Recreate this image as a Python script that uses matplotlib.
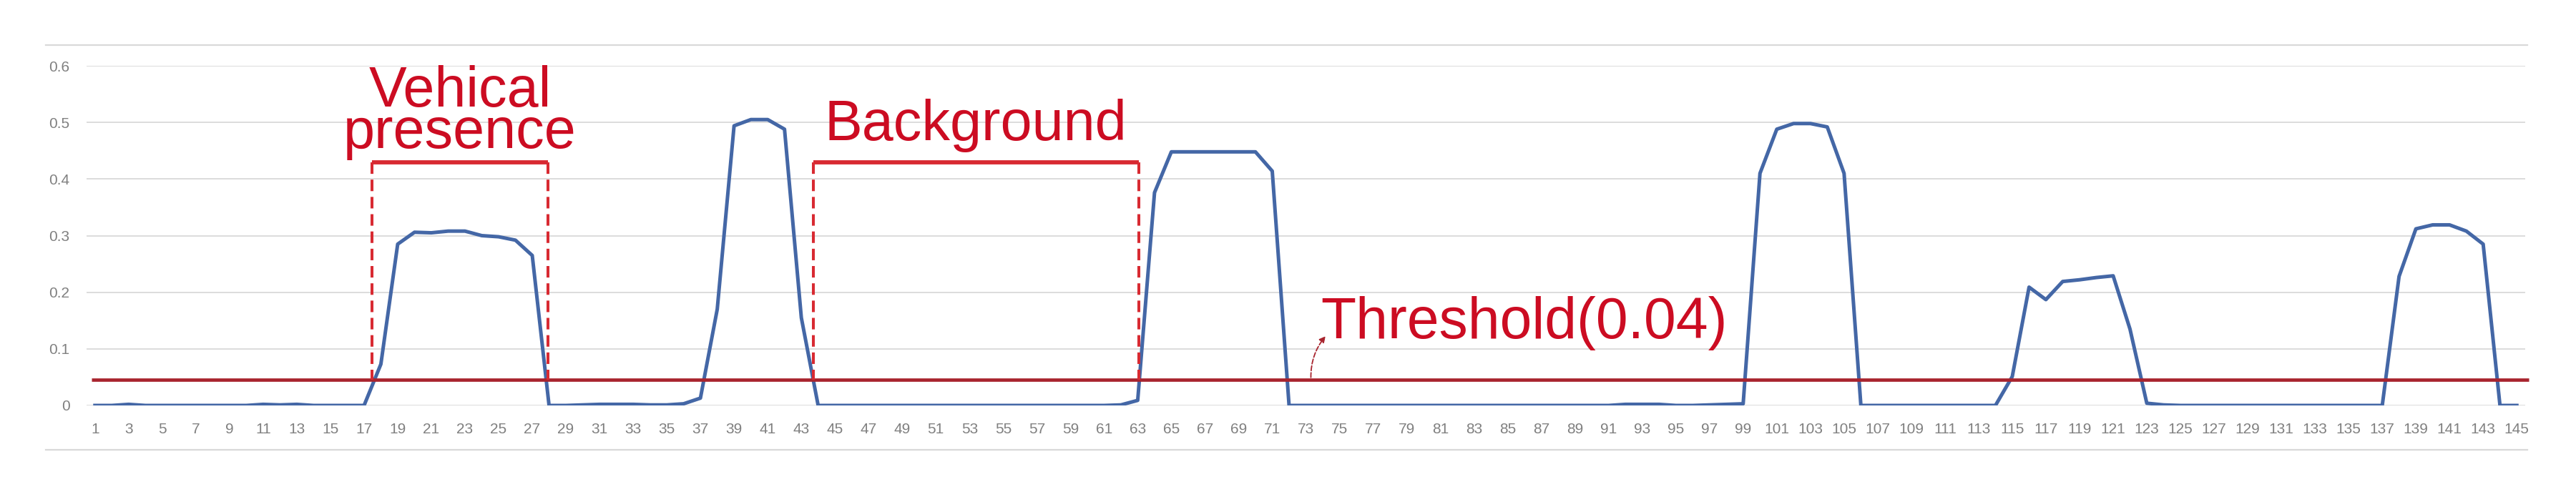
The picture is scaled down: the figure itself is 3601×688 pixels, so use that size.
import numpy as np
import matplotlib
matplotlib.use("Agg")
import matplotlib.pyplot as plt
from matplotlib.lines import Line2D

plt.rcParams["font.family"] = ["Liberation Sans", "DejaVu Sans"]

# frame index 1..145 and the detection score
frames = np.arange(1, 146)
score = [
    0, 0, 0.002, 0, 0, 0, 0, 0, 0, 0,
    0.002, 0.001, 0.002, 0, 0, 0, 0, 0.073, 0.285, 0.306,
    0.305, 0.308, 0.308, 0.300, 0.298, 0.292, 0.265, 0, 0, 0.001,
    0.002, 0.002, 0.002, 0.001, 0.001, 0.003, 0.013, 0.170, 0.494, 0.505,
    0.505, 0.488, 0.155, 0, 0, 0, 0, 0, 0, 0,
    0, 0, 0, 0, 0, 0, 0, 0, 0, 0,
    0, 0.001, 0.009, 0.376, 0.448, 0.448, 0.448, 0.448, 0.448, 0.448,
    0.414, 0, 0, 0, 0, 0, 0, 0, 0, 0,
    0, 0, 0, 0, 0, 0, 0, 0, 0, 0,
    0, 0.002, 0.002, 0.002, 0, 0, 0.001, 0.002, 0.003, 0.410,
    0.488, 0.498, 0.498, 0.492, 0.410, 0, 0, 0, 0, 0,
    0, 0, 0, 0, 0.051, 0.209, 0.187, 0.219, 0.222, 0.226,
    0.229, 0.135, 0.004, 0.001, 0, 0, 0, 0, 0, 0,
    0, 0, 0, 0, 0, 0, 0, 0.228, 0.312, 0.319,
    0.319, 0.308, 0.285, 0, 0,
]
threshold = 0.046          # drawn level of the threshold line
threshold_label = "Threshold(0.04)"
y_ticks = [0, 0.1, 0.2, 0.3, 0.4, 0.5, 0.6]
y_labels = ["0", "0.1", "0.2", "0.3", "0.4", "0.5", "0.6"]
x_ticks = frames[::2]

# bracketed regions
vehicle_span = (17.45, 27.95)
background_span = (43.7, 63.05)
bracket_top = 0.430

W, H = 3601, 688
fig = plt.figure(figsize=(W / 100, H / 100), dpi=100)
ax = fig.add_axes([121 / W, 1 - 567 / H, (3530 - 121) / W, (567 - 92) / H])

red = "#CC0C22"
grid_c = "#D9D9D9"

# chart area border (top and bottom only)
for yy in (63, 629):
    fig.add_artist(Line2D([64 / W, 3533 / W], [1 - yy / H, 1 - yy / H],
                          color=grid_c, lw=1.6))

ax.set_xlim(0.5, 145.5)
ax.set_ylim(0, 0.6)
ax.set_yticks(y_ticks)
ax.set_yticklabels(y_labels)
ax.set_xticks(x_ticks)
ax.set_xticklabels([str(v) for v in x_ticks])
ax.tick_params(length=0, labelsize=15, labelcolor="#808080")
ax.tick_params(axis="y", pad=17)
ax.tick_params(axis="x", pad=17)
for s in ax.spines.values():
    s.set_visible(False)
ax.grid(axis="y", color=grid_c, lw=1.3)
ax.set_axisbelow(True)

ax.plot(frames, score, color="#4467A6", lw=3.6, solid_joinstyle="round", zorder=3)
ax.hlines(threshold, 0.8, 145.7, color="#A8242E", lw=3.4, zorder=4, clip_on=False)

# brackets
for x0, x1 in (vehicle_span, background_span):
    ax.plot([x0, x1], [bracket_top, bracket_top], color="#D82A32", lw=4.2,
            solid_capstyle="butt", zorder=5)
    for xx in (x0, x1):
        ax.plot([xx, xx], [bracket_top, threshold], color="#D82A32", lw=2.9,
                dashes=(4, 2), zorder=5)

ax.text(22.7, 0.455, "Vehical\npresence", color=red, fontsize=57,
        ha="center", va="baseline", ma="center", linespacing=0.71, zorder=6)
ax.text(53.38, 0.469, "Background", color=red, fontsize=57, ha="center",
        va="baseline", zorder=6)
ax.text(73.9, 0.119, threshold_label, color=red, fontsize=58, ha="left",
        va="baseline", zorder=6)

ax.annotate("", xy=(74.25, 0.125), xytext=(73.3, threshold),
            arrowprops=dict(arrowstyle="-|>,head_length=0.5,head_width=0.25",
                            color="#A8242E", lw=1.3, ls="--",
                            connectionstyle="arc3,rad=-0.2"), zorder=6)

fig.savefig("out.png", dpi=100, facecolor="white")
